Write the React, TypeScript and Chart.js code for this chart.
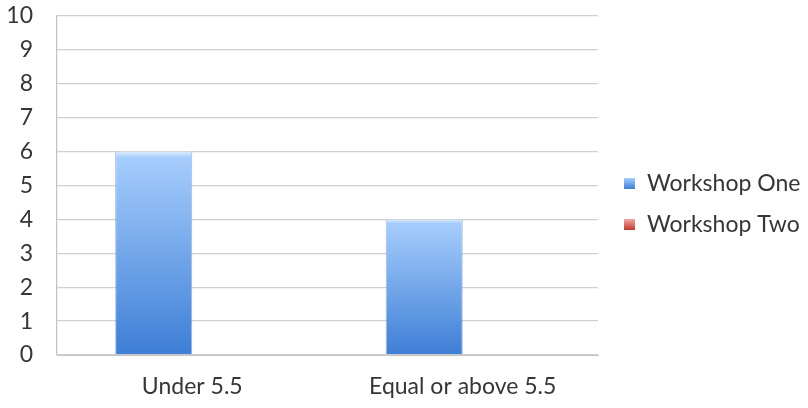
import React, { useEffect, useRef } from "react";
import { Chart, registerables } from "chart.js";

Chart.register(...registerables);

const categories: string[] = ["Under 5.5", "Equal or above 5.5"];
const seriesNames: string[] = ["Workshop One", "Workshop Two"];
const workshopOne: number[] = [6, 4];
const workshopTwo: number[] = [0, 0];
const yTicks: number[] = [0, 1, 2, 3, 4, 5, 6, 7, 8, 9, 10];

const FONT = "Lato, 'Open Sans', sans-serif";
const FONT_SIZE = 23;
const TEXT_COLOR = "#363636";

// colour pairs (light top, dark base) for each series
const seriesShades: [string, string][] = [
  ["#a6cdfc", "#3e7ed6"],
  ["#f3a7a5", "#c0392f"],
];

// vertical gradient spanning a single bar, from its top down to the baseline
function barGradient(ctx: any, light: string, dark: string) {
  const chart = ctx.chart;
  const area = chart.chartArea;
  if (!area || ctx.type !== "data") return dark;
  const y = chart.scales.y;
  const v = ctx.parsed ? ctx.parsed.y : ctx.raw;
  const top = y.getPixelForValue(v);
  const base = y.getPixelForValue(0);
  if (!isFinite(top) || base - top < 1) return dark;
  const g = chart.ctx.createLinearGradient(0, top, 0, base);
  g.addColorStop(0, "#dcecfe");
  g.addColorStop(0.03, light);
  g.addColorStop(1, dark);
  return g;
}

// legend at the right side, vertically centred on the canvas
const sideLegend = {
  id: "sideLegend",
  afterDraw(chart: any) {
    const { ctx, chartArea } = chart;
    const names: string[] = chart.data.datasets.map((d: any) => d.label);
    const gap = 41;
    const box = 11;
    const x0 = chartArea.right + 26;
    const mid = chart.height / 2;
    ctx.save();
    ctx.font = `${FONT_SIZE}px ${FONT}`;
    ctx.textBaseline = "middle";
    ctx.textAlign = "left";
    names.forEach((name, i) => {
      const cy = mid + (i - (names.length - 1) / 2) * gap;
      const [light, dark] = seriesShades[i];
      const g = ctx.createLinearGradient(0, cy - box / 2, 0, cy + box / 2);
      g.addColorStop(0, light);
      g.addColorStop(1, dark);
      ctx.fillStyle = g;
      ctx.fillRect(x0, cy - box / 2, box, box);
      ctx.fillStyle = TEXT_COLOR;
      ctx.fillText(name, x0 + box + 12, cy);
    });
    ctx.restore();
  },
};

export default function App() {
  const ref = useRef<HTMLCanvasElement | null>(null);

  useEffect(() => {
    document.body.style.margin = "0";
    const canvas = ref.current;
    if (!canvas) return;
    const chart = new Chart(canvas, {
      type: "bar",
      data: {
        labels: categories,
        datasets: [
          {
            label: seriesNames[0],
            data: workshopOne,
            backgroundColor: (c: any) => barGradient(c, seriesShades[0][0], seriesShades[0][1]),
            borderColor: "rgba(80,125,195,0.55)",
            borderWidth: { left: 1, right: 1, top: 0, bottom: 0 },
          },
          {
            label: seriesNames[1],
            data: workshopTwo,
            backgroundColor: (c: any) => barGradient(c, seriesShades[1][0], seriesShades[1][1]),
            borderWidth: 0,
          },
        ],
      },
      options: {
        animation: false,
        responsive: false,
        maintainAspectRatio: false,
        layout: { padding: { top: 16, left: 0, right: 210, bottom: 0 } },
        datasets: {
          bar: { categoryPercentage: 0.57, barPercentage: 1.0 },
        },
        plugins: {
          tooltip: { enabled: false },
          legend: { display: false },
        },
        scales: {
          x: {
            afterFit: (axis: any) => {
              axis.height = 53;
              axis.paddingLeft = 0;
              axis.paddingRight = 0;
            },
            grid: { display: false, drawTicks: false },
            border: { display: true, color: "#c4c4c4", width: 1 },
            ticks: {
              color: TEXT_COLOR,
              font: { family: FONT, size: FONT_SIZE },
              padding: 18,
            },
          },
          y: {
            min: 0,
            max: 10,
            afterFit: (axis: any) => {
              axis.width = 57;
              axis.paddingTop = 0;
              axis.paddingBottom = 0;
            },
            afterBuildTicks: (axis: any) => {
              axis.ticks = yTicks.map((v) => ({ value: v }));
            },
            grid: { color: "#d0d0d0", lineWidth: 1.3, drawTicks: false },
            border: { display: true, color: "#c4c4c4", width: 1.3 },
            ticks: {
              color: TEXT_COLOR,
              font: { family: FONT, size: FONT_SIZE },
              padding: 24,
            },
          },
        },
      },
      plugins: [sideLegend],
    });
    return () => chart.destroy();
  }, []);

  return (
    <div style={{ width: 808, height: 408, background: "#ffffff" }}>
      <canvas ref={ref} width={808} height={408} style={{ display: "block" }} />
    </div>
  );
}
